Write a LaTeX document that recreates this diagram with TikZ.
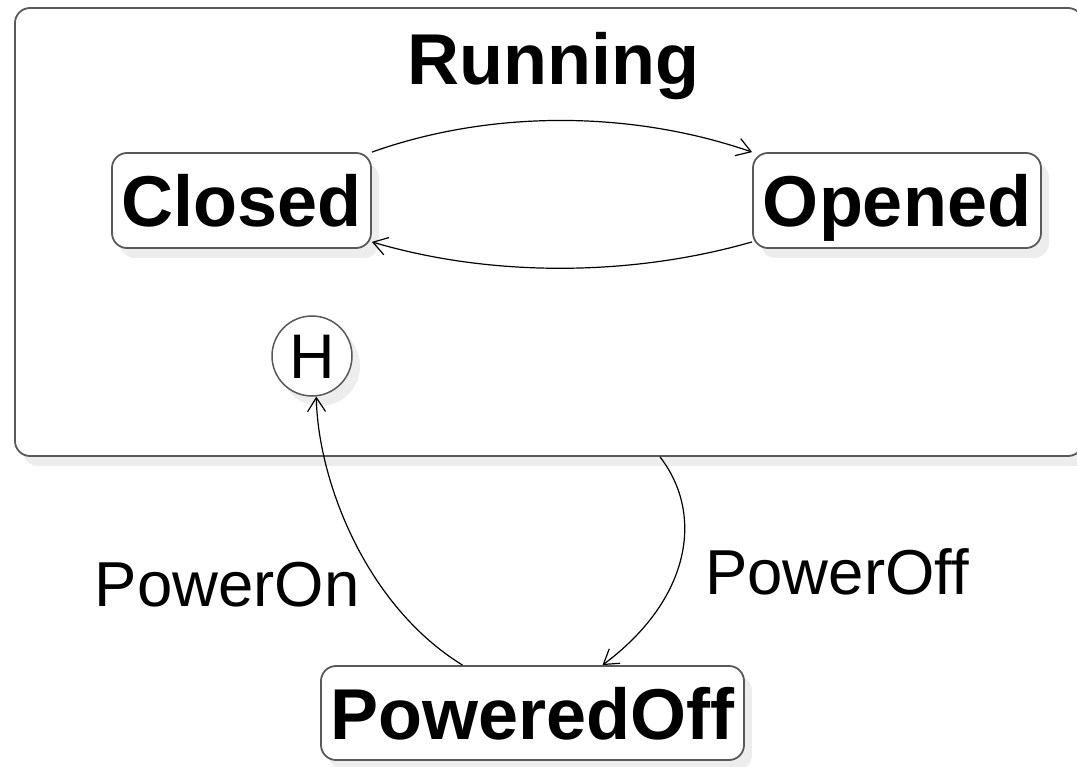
\documentclass[tikz,border=0pt]{standalone}
\usepackage{fontspec}
\setmainfont{Liberation Sans}
\usetikzlibrary{arrows.meta,shadows}
\begin{document}
\begin{tikzpicture}[x=1pt,y=-1pt,
  shadowed/.style={drop shadow={shadow xshift=8pt,shadow yshift=-10pt,fill=black!7,opacity=1}},
  state/.style={draw=black!65,line width=1.8pt,rounded corners=15pt,fill=white,shadowed,
    font=\fontsize{72}{86}\selectfont\bfseries,inner sep=0pt,text height=52pt,text depth=0pt,
    minimum height=95pt},
  histstate/.style={circle,draw=black!65,line width=1.5pt,fill=white,shadowed,
    font=\fontsize{63}{75}\selectfont,inner sep=0pt,minimum size=80pt,text height=45pt,text depth=0pt},
  trans/.style={draw=black,line width=1.2pt,-{Straight Barb[length=14pt,width=18pt]}},
  lbl/.style={font=\fontsize{63.5}{76}\selectfont,inner sep=0pt},
  title/.style={font=\fontsize{72}{86}\selectfont\bfseries,inner sep=0pt},
]
\useasboundingbox (0,0) rectangle (1077,767);
\clip (0,0) rectangle (1077,767);

% composite state and its title
\node[state, minimum width=1068pt, minimum height=448pt] (running) at (549,232) {};
\node[title, anchor=base] (runningtitle) at (553,85) {Running};

% inner states
\node[state, minimum width=259pt] (closed) at (241.5,200.5) {Closed};
\node[state, minimum width=288pt] (opened) at (897,200.5) {Opened};
\node[histstate] (hist) at (312,356) {H};

% outer state
\node[state, minimum width=423pt, minimum height=94pt] (poweredoff) at (532.5,713) {PoweredOff};

% transitions between inner states
\draw[trans] (closed.north east) .. controls (490,110) and (630,110) .. (opened.north west);
\draw[trans] ([yshift=7pt]opened.south west) .. controls (630,277) and (490,277) .. ([yshift=7pt]closed.south east);

% power transitions
\draw[trans] ([xshift=-70pt]poweredoff.north) .. controls (365,605) and (318,480) .. (hist.-84);
\draw[trans] ([xshift=111pt]running.south) .. controls (705,515) and (690,600) .. ([xshift=70pt]poweredoff.north);

% transition labels
\node[lbl] (poweron) at (227,585) {PowerOn};
\node[lbl] (poweroff) at (837,572) {PowerOff};
\end{tikzpicture}
\end{document}
